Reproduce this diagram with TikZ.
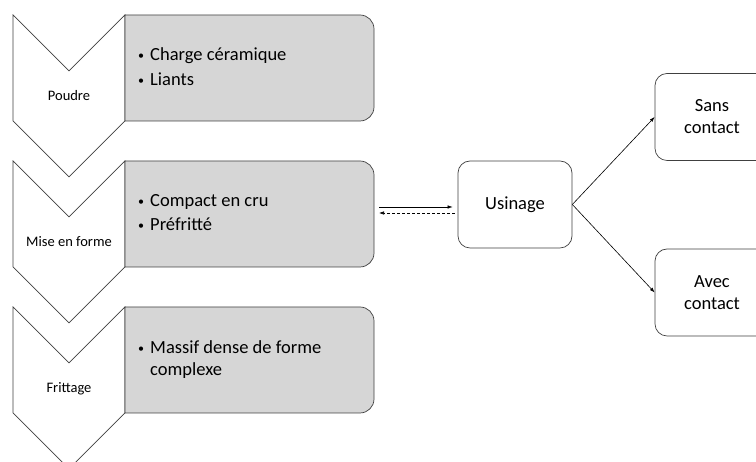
\documentclass[tikz,border=0pt]{standalone}
\usepackage{fontspec}
\setmainfont{Carlito}
\usepackage{xcolor}
\usepackage{tikz}
\usetikzlibrary{math,arrows.meta}
\definecolor{fondgris}{RGB}{214,214,214}
\definecolor{trait}{RGB}{64,64,64}
\newcommand{\puce}{\makebox[14pt][l]{\hspace{2pt}\raisebox{1.5pt}{\fontsize{12}{12}\selectfont•}}}

\begin{document}
\begin{tikzpicture}[x=1pt,y=1pt,
	chevron/.style={draw=trait,fill=white,line width=0.7pt},
	cadre/.style={draw=trait,fill=fondgris,line width=0.7pt},
	etape/.style={anchor=base,inner sep=0pt,font=\fontsize{14.5}{17}\selectfont},
	ligne/.style={anchor=base west,inner sep=0pt,font=\fontsize{18.5}{22}\selectfont},
	bloc/.style={draw=trait,fill=white,rounded corners=12pt,minimum width=114pt,minimum height=87pt,align=center,line width=0.7pt,font=\fontsize{18.5}{22}\selectfont},
	fleche/.style={-{Latex[length=5pt,width=3.5pt]},line width=0.6pt}]
\useasboundingbox (0,0) rectangle (756,462);
\clip (0,0) rectangle (756,462);
\tikzmath{
	\xg = 13;\xm = 69;\xd = 125;\xb = 374;
	\pc = 56;\hc = 106;\rr = 14;
	\ta = 447;\tb = 301;\tc = 155;
	% Poudre
	{\draw[chevron] (\xg,\ta) -- (\xm,\ta-\pc) -- (\xd,\ta) -- (\xd,\ta-\hc) -- (\xm,\ta-\hc-\pc) -- (\xg,\ta-\hc) -- cycle;};
	{\draw[cadre] (\xd,\ta) -- (\xb-\rr,\ta) arc (90:0:\rr) -- (\xb,\ta-\hc+\rr) arc (0:-90:\rr) -- (\xd,\ta-\hc) -- cycle;};
	{\node[etape] (poudre) at (\xm,\ta-86) {Poudre};};
	{\node[ligne] (charge) at (136,\ta-46) {\puce Charge céramique};};
	{\node[ligne] (liants) at (136,\ta-71) {\puce Liants};};
	% Mise en forme
	{\draw[chevron] (\xg,\tb) -- (\xm,\tb-\pc) -- (\xd,\tb) -- (\xd,\tb-\hc) -- (\xm,\tb-\hc-\pc) -- (\xg,\tb-\hc) -- cycle;};
	{\draw[cadre] (\xd,\tb) -- (\xb-\rr,\tb) arc (90:0:\rr) -- (\xb,\tb-\hc+\rr) arc (0:-90:\rr) -- (\xd,\tb-\hc) -- cycle;};
	{\node[etape] (mise) at (\xm,\tb-86) {Mise en forme};};
	{\node[ligne] (compact) at (136,\tb-46) {\puce Compact en cru};};
	{\node[ligne] (prefritte) at (136,\tb-70) {\puce Préfritté};};
	{\coordinate (mf) at (\xb,\tb-53);};
	% Frittage
	{\draw[chevron] (\xg,\tc) -- (\xm,\tc-\pc) -- (\xd,\tc) -- (\xd,\tc-\hc) -- (\xm,\tc-\hc-\pc) -- (\xg,\tc-\hc) -- cycle;};
	{\draw[cadre] (\xd,\tc) -- (\xb-\rr,\tc) arc (90:0:\rr) -- (\xb,\tc-\hc+\rr) arc (0:-90:\rr) -- (\xd,\tc-\hc) -- cycle;};
	{\node[etape] (frittage) at (\xm,\tc-86) {Frittage};};
	{\node[ligne] (massif) at (136,\tc-47) {\puce Massif dense de forme};};
	{\node[ligne] (complexe) at (150,\tc-69) {complexe};};
	%
	{\node[bloc] (usinage) at (515,257.5) {Usinage};};
	{\node[bloc] (sans) at (712,345) {Sans\\contact};};
	{\node[bloc] (avec) at (712,169.5) {Avec\\contact};};
	{\draw[fleche] ([xshift=5pt,yshift=7pt]mf) -- ([xshift=-5pt,yshift=-2.5pt]usinage.west);};
	{\draw[fleche,dash pattern=on 3pt off 2pt] ([xshift=-3pt,yshift=-8.5pt]usinage.west) -- ([xshift=5pt,yshift=1pt]mf);};
	{\draw[fleche] (usinage.east) -- (sans.west);};
	{\draw[fleche] (usinage.east) -- (avec.west);};
};
\end{tikzpicture}
\end{document}
